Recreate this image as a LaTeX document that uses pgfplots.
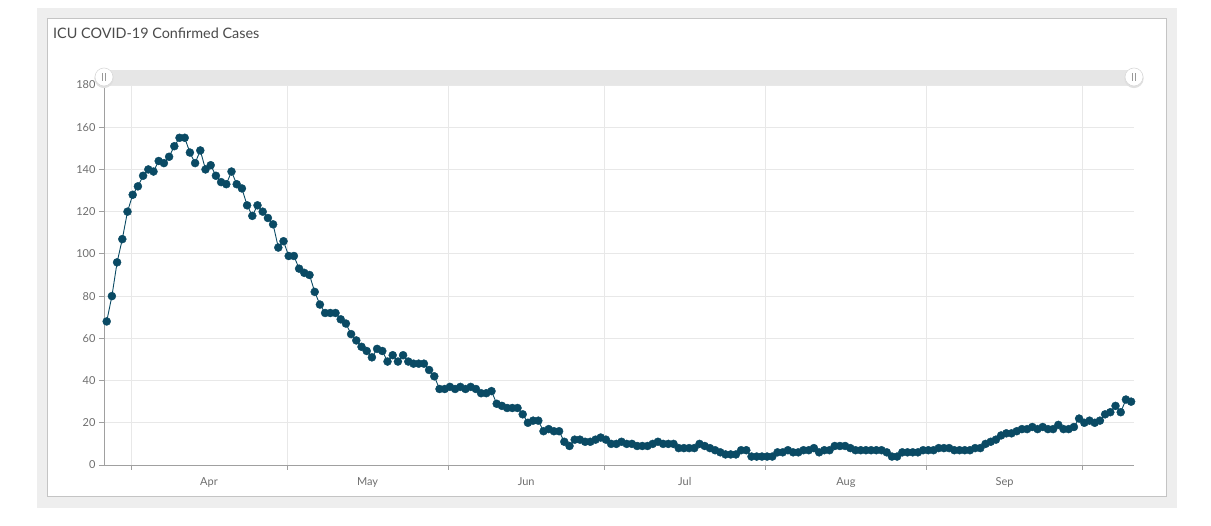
\documentclass[border=0pt]{standalone}
\usepackage{pgfplots}
\pgfplotsset{compat=1.18}
\usepackage{pgfplotstable}
\usepackage{fontspec}
\setmainfont{Lato}
\definecolor{series}{RGB}{10,74,100}
\definecolor{outerbg}{RGB}{238,238,238}
\definecolor{panelborder}{RGB}{196,196,196}
\definecolor{titlecol}{RGB}{75,75,75}
\definecolor{labelcol}{RGB}{110,110,110}
\definecolor{gridcol}{RGB}{232,232,232}
\definecolor{axiscol}{RGB}{160,160,160}
\definecolor{scrollbg}{RGB}{230,230,230}
\pgfplotstableread{
n v
0 68
1 80
2 96
3 107
4 120
5 128
6 132
7 137
8 140
9 139
10 144
11 143
12 146
13 151
14 155
15 155
16 148
17 143
18 149
19 140
20 142
21 137
22 134
23 133
24 139
25 133
26 131
27 123
28 118
29 123
30 120
31 117
32 114
33 103
34 106
35 99
36 99
37 93
38 91
39 90
40 82
41 76
42 72
43 72
44 72
45 69
46 67
47 62
48 59
49 56
50 54
51 51
52 55
53 54
54 49
55 52
56 49
57 52
58 49
59 48
60 48
61 48
62 45
63 42
64 36
65 36
66 37
67 36
68 37
69 36
70 37
71 36
72 34
73 34
74 35
75 29
76 28
77 27
78 27
79 27
80 24
81 20
82 21
83 21
84 16
85 17
86 16
87 16
88 11
89 9
90 12
91 12
92 11
93 11
94 12
95 13
96 12
97 10
98 10
99 11
100 10
101 10
102 9
103 9
104 9
105 10
106 11
107 10
108 10
109 10
110 8
111 8
112 8
113 8
114 10
115 9
116 8
117 7
118 6
119 5
120 5
121 5
122 7
123 7
124 4
125 4
126 4
127 4
128 4
129 6
130 6
131 7
132 6
133 6
134 7
135 7
136 8
137 6
138 7
139 7
140 9
141 9
142 9
143 8
144 7
145 7
146 7
147 7
148 7
149 7
150 6
151 4
152 4
153 6
154 6
155 6
156 6
157 7
158 7
159 7
160 8
161 8
162 8
163 7
164 7
165 7
166 7
167 8
168 8
169 10
170 11
171 12
172 14
173 15
174 15
175 16
176 17
177 17
178 18
179 17
180 18
181 17
182 17
183 19
184 17
185 17
186 18
187 22
188 20
189 21
190 20
191 21
192 24
193 25
194 28
195 25
196 31
197 30
}\icu

\begin{document}
\begin{tikzpicture}[x=1pt,y=1pt]
\path[use as bounding box] (0,0) rectangle (1211,526);
\fill[white] (0,0) rectangle (1211,526);
\fill[outerbg] (37,18) rectangle (1177,518);
\filldraw[fill=white, draw=panelborder, line width=1pt] (47.5,29.5) rectangle (1166.5,507.5);
\node[anchor=base west, font=\fontsize{14.4}{16}\selectfont, text=titlecol, inner sep=0pt] at (53,487) {ICU COVID-19 Confirmed Cases};
\fill[scrollbg] (104,441) rectangle (1134,456);
\begin{axis}[at={(104pt,61pt)}, anchor=south west, scale only axis,
  width=1030pt, height=380pt,
  xmin=-5.19, xmax=192.88, ymin=0, ymax=180,
  ytick={0,20,...,180},
  xtick={0,30,61,91,122,153,183}, xticklabels={},
  extra x ticks={15,45.5,76,106.5,137.5,168},
  extra x tick labels={Apr,May,Jun,Jul,Aug,Sep},
  extra x tick style={grid=none, major tick length=0pt,
    xticklabel style={yshift=-9pt}},
  grid=major, major grid style={gridcol, line width=0.8pt},
  axis x line=bottom, axis y line=left,
  axis line style={-, axiscol, line width=0.8pt},
  tick align=outside, major tick length=5pt,
  tick style={axiscol, line width=0.8pt},
  ticklabel style={font=\fontsize{11}{13}\selectfont, text=labelcol},
  /pgf/number format/assume math mode=true,
  clip=false]
\addplot[series, line width=0.9pt, mark=*, mark size=4pt,
  mark options={solid, fill=series, draw=series, line width=0.4pt}]
  table[x expr=\thisrow{n}-4.67, y=v] {\icu};
\end{axis}
\foreach \hx in {104,1134}{
  \fill[black!12] (\hx,447.5) circle (9.6);
  \filldraw[fill=white, draw=black!15, line width=0.6pt] (\hx,449) circle (9);
  \draw[black!40, line width=0.7pt] (\hx-1.6,445) -- (\hx-1.6,453) (\hx+1.6,445) -- (\hx+1.6,453);
}
\end{tikzpicture}
\end{document}
